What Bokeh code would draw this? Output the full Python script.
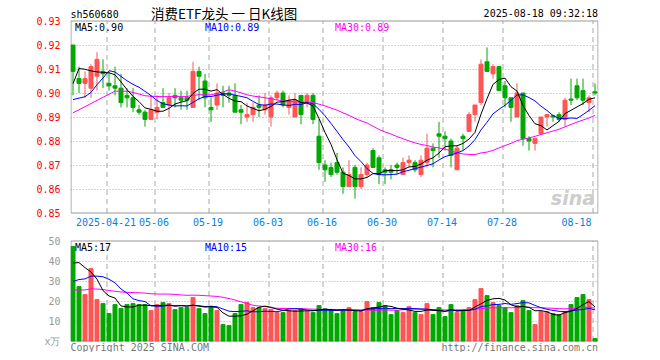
import numpy as np
import pandas as pd
from bokeh.plotting import figure
from bokeh.models import Range1d, FixedTicker, Label, LabelSet, ColumnDataSource, NumeralTickFormatter
from bokeh.layouts import column
from bokeh.core.properties import value
from bokeh.embed import file_html
from bokeh.resources import INLINE

# ---------------- data ----------------
dates = ["04-11","04-14","04-15","04-16","04-17","04-18","04-21","04-22","04-23","04-24","04-25","04-28","04-29","04-30",
         "05-06","05-07","05-08","05-09","05-12","05-13","05-14","05-15","05-16","05-19","05-20","05-21","05-22","05-23",
         "05-26","05-27","05-28","05-29","05-30",
         "06-03","06-04","06-05","06-06","06-09","06-10","06-11","06-12","06-13","06-16","06-17","06-18","06-19","06-20",
         "06-23","06-24","06-25","06-26","06-27","06-30",
         "07-01","07-02","07-03","07-04","07-07","07-08","07-09","07-10","07-11","07-14","07-15","07-16","07-17","07-18",
         "07-21","07-22","07-23","07-24","07-25","07-28","07-29","07-30","07-31",
         "08-01","08-04","08-05","08-06","08-07","08-08","08-11","08-12","08-13","08-14","08-15","08-18"]

opens = [0.920,0.906,0.904,0.902,0.907,0.909,0.904,0.903,0.902,0.899,0.898,0.893,0.892,0.889,0.892,0.896,0.895,0.899,0.898,0.898,
         0.894,0.909,0.905,0.894,0.895,0.900,0.900,0.899,0.893,0.890,0.891,0.895,0.893,0.890,0.898,0.900,0.894,0.890,0.899,0.896,
         0.899,0.882,0.870,0.869,0.871,0.867,0.861,0.869,0.861,0.866,0.876,0.873,0.868,0.868,0.870,0.866,0.871,0.871,0.866,0.871,
         0.877,0.883,0.882,0.880,0.868,0.882,0.884,0.891,0.896,0.913,0.908,0.911,0.903,0.898,0.890,0.900,0.881,0.879,0.883,0.890,
         0.8905,0.891,0.889,0.8975,0.903,0.901,0.896,0.9005]
highs = [0.920,0.911,0.909,0.912,0.917,0.914,0.909,0.911,0.908,0.902,0.902,0.895,0.893,0.899,0.899,0.902,0.900,0.902,0.901,0.901,
         0.913,0.911,0.908,0.898,0.904,0.903,0.903,0.904,0.895,0.896,0.896,0.899,0.900,0.899,0.901,0.901,0.899,0.900,0.899,0.900,
         0.900,0.889,0.872,0.871,0.875,0.869,0.872,0.870,0.869,0.871,0.877,0.874,0.869,0.870,0.871,0.873,0.874,0.872,0.874,0.883,
         0.879,0.888,0.884,0.881,0.878,0.883,0.892,0.895,0.914,0.919,0.912,0.911,0.905,0.898,0.904,0.900,0.882,0.881,0.890,0.891,
         0.891,0.892,0.898,0.906,0.906,0.906,0.899,0.904]
lows = [0.899,0.900,0.898,0.898,0.901,0.902,0.901,0.899,0.894,0.894,0.892,0.891,0.886,0.889,0.889,0.894,0.890,0.894,0.893,0.893,
        0.894,0.897,0.894,0.888,0.893,0.894,0.896,0.892,0.887,0.888,0.888,0.890,0.891,0.886,0.897,0.894,0.891,0.890,0.887,0.894,
        0.887,0.868,0.863,0.865,0.866,0.858,0.861,0.856,0.860,0.865,0.869,0.862,0.862,0.864,0.866,0.866,0.869,0.867,0.865,0.869,
        0.869,0.873,0.876,0.869,0.868,0.876,0.884,0.888,0.895,0.909,0.906,0.901,0.894,0.888,0.890,0.878,0.876,0.876,0.883,0.886,
        0.888,0.888,0.886,0.895,0.897,0.895,0.892,0.899]
closes = [0.909,0.904,0.906,0.911,0.914,0.908,0.903,0.902,0.896,0.898,0.894,0.892,0.889,0.893,0.894,0.894,0.898,0.898,0.897,0.897,
          0.909,0.907,0.898,0.893,0.900,0.899,0.899,0.892,0.892,0.891,0.894,0.894,0.895,0.898,0.900,0.895,0.897,0.897,0.891,0.899,
          0.889,0.871,0.868,0.866,0.867,0.861,0.866,0.861,0.866,0.870,0.869,0.866,0.867,0.867,0.869,0.871,0.872,0.868,0.872,0.877,
          0.876,0.882,0.881,0.874,0.877,0.881,0.891,0.895,0.912,0.909,0.911,0.901,0.898,0.894,0.900,0.881,0.880,0.881,0.890,0.891,
          0.890,0.889,0.897,0.897,0.898,0.897,0.898,0.900]
# closes of the 29 sessions before the first one shown (they only feed the moving averages)
pre_closes = [0.866,0.867,0.872,0.875,0.870,0.864,0.863,0.897,0.898,0.910,0.912,0.910,0.899,0.897,0.896,0.898,0.895,0.897,
              0.898,0.896,0.898,0.900,0.893,0.882,0.880,0.8725,0.9075,0.9145,0.916]

volumes = [47.2,27.2,23.2,36.2,20.7,18.7,13.7,18.2,16.3,18.2,18.7,18.2,18.2,15.2,18.2,19.2,18.7,15.7,16.7,16.7,
           21.7,16.2,13.7,17.2,15.2,8.2,7.7,13.7,18.2,19.2,16.7,16.7,16.2,15.7,14.2,14.2,15.2,15.2,16.2,14.7,
           14.2,17.7,16.2,15.5,13.7,15.2,16.7,14.7,14.7,19.7,16.7,19.2,17.7,13.2,15.2,14.2,17.2,14.2,13.2,18.7,
           13.2,16.7,12.2,18.2,14.2,15.2,16.7,20.7,26.2,22.7,19.2,17.7,16.7,14.2,17.7,20.2,15.2,8.2,14.7,14.7,
           13.7,13.2,14.7,18.2,21.7,23.2,20.7,1.2]
pre_volumes = [25,22,20,24,26,28,30,27,24,22,21,23,25,22,20,19,21,24,22,20,18,20,22,21,22,26.2,35.7,47.2,38.7]

tick_dates = ["04-21","05-06","05-19","06-03","06-16","06-30","07-14","07-28","08-18"]
tick_texts = ["2025-04-21","05-06","05-19","06-03","06-16","06-30","07-14","07-28","08-18"]
price_ticks = [0.85,0.86,0.87,0.88,0.89,0.90,0.91,0.92,0.93]
vol_ticks = [0,10,20,30,40,50]
vol_ma_texts = ["MA5:17","MA10:15","MA30:16"]

code = "sh560680"
title = "消费ETF龙头 一 日K线图"
stamp = "2025-08-18 09:32:18"
copyright_txt = "Copyright 2025 SINA.COM"
url_txt = "http://finance.sina.com.cn"

# ---------------- derived ----------------
n = len(dates)
idx = np.arange(n)
o = np.array(opens); h = np.array(highs); l = np.array(lows); c = np.array(closes)
call = pd.Series(pre_closes + closes)
vall = pd.Series(pre_volumes + volumes)
ma = {k: call.rolling(k).mean().values[-n:] for k in (5, 10, 30)}
vma = {k: vall.rolling(k).mean().values[-n:] for k in (5, 10, 30)}

RED = "#ff5555"
GREEN = "#00a800"
colors = [RED if cc > oo else GREEN for oo, cc in zip(o, c)]
MONO = "DejaVu Sans Mono"
BLUE_TXT = "#0a80dc"
GRID = "#a8a8a8"
BOX = "#999999"

src = ColumnDataSource(dict(x=idx, h=h, l=l, top=np.maximum(o, c), bottom=np.minimum(o, c),
                            vol=volumes, color=colors))

W = 660
LEFT = 70                      # frame starts on pixel column 70
PX = 6.0                       # pixels per session
box_l = -2.0 / PX              # left frame line (first column of the first body)
box_r = n - 1 + 3.0 / PX       # right frame line
xr = Range1d(-2.5 / PX, n - 1 + 3.5 / PX)
RIGHT = W - LEFT - int(round((xr.end - xr.start) * PX))
tick_idx = [dates.index(d) for d in tick_dates]
grid_x = [i - 2.0 / PX for i in tick_idx]

# price panel: 2400 px per unit, 0.93 on pixel row 20, 0.85 on row 212
PY = 2400.0
P_H = 232
p_top, p_bot = price_ticks[-1], price_ticks[0]
p_yr = Range1d(p_bot - (P_H - 212.5) / PY, p_top + 20.5 / PY)
# volume panel: 2 px per unit, 50 on row 240, 0 on row 340
VY = 2.0
V_H = 120
v_top, v_bot = vol_ticks[-1], vol_ticks[0]
v_yr = Range1d(v_bot - (V_H - 108.5) / VY, v_top + 8.5 / VY)


def base(fig, ticks, top, bot):
    fig.outline_line_color = None
    fig.background_fill_color = "white"
    fig.border_fill_color = "white"
    fig.xgrid.visible = False
    fig.yaxis.axis_line_color = None
    fig.yaxis.major_tick_line_color = None
    fig.yaxis.minor_tick_line_color = None
    fig.yaxis.major_label_standoff = 4
    fig.yaxis.major_label_text_font = MONO
    fig.yaxis.major_label_text_font_size = "10px"
    fig.yaxis.ticker = FixedTicker(ticks=ticks)
    fig.ygrid.ticker = FixedTicker(ticks=ticks[1:-1])
    fig.ygrid.grid_line_color = GRID
    fig.ygrid.grid_line_dash = "1 2"
    k = len(grid_x)
    fig.segment(x0=grid_x, y0=[bot] * k, x1=grid_x, y1=[top] * k, line_color=GRID,
                line_dash="5 4", line_width=1)
    fig.quad(left=[box_l], right=[box_r], bottom=[bot], top=[top], fill_alpha=0,
             line_color=BOX, line_width=1)


def txt(fig, x, y, text, dx=0, dy=0, align="left", color="black", font=MONO, size="10px", style="normal"):
    fig.add_layout(Label(x=x, y=y, x_offset=dx, y_offset=dy, text=text, text_font=font,
                         text_font_size=size, text_font_style=style, text_color=color,
                         text_align=align, text_baseline="middle"))


# ---------------- price panel ----------------
p = figure(width=W, height=P_H, output_backend="svg", toolbar_location=None,
           x_range=xr, y_range=p_yr, x_axis_location=None,
           min_border_left=LEFT, min_border_right=RIGHT, min_border_top=0, min_border_bottom=0)
base(p, price_ticks, p_top, p_bot)
p.yaxis.formatter = NumeralTickFormatter(format="0.00")
p.yaxis.major_label_text_color = "#ff0000"

p.segment(x0="x", y0="h", x1="x", y1="l", color="color", line_width=1, source=src)
p.vbar(x="x", width=4 / PX, top="top", bottom="bottom", fill_color="color", line_color="color",
       line_width=1, source=src)
p.line(idx, ma[30], color="#ff00ff", line_width=1)
p.line(idx, ma[10], color="#0000ff", line_width=1)
p.line(idx, ma[5], color="black", line_width=1)

txt(p, box_l, p_top, code, dx=-0.5, dy=7)
txt(p, box_l, p_top, title, dx=80, dy=8.5, font="Noto Sans CJK SC", size="13.5px")
txt(p, box_r, p_top, stamp, dx=0, dy=8, align="right")
for k, dx, col in ((5, 4, "black"), (10, 134, "#0000ff"), (30, 264, "#ff00ff")):
    txt(p, box_l, p_top, f"MA{k}:{ma[k][-1]:.2f}", dx=dx, dy=-6, color=col)

lab_src = ColumnDataSource(dict(x=grid_x[:-1], y=[p_bot] * (len(grid_x) - 1), t=tick_texts[:-1]))
p.add_layout(LabelSet(x="x", y="y", text="t", source=lab_src, x_offset=-1, y_offset=-9,
                      text_font=value(MONO), text_font_size=value("10px"), text_color=BLUE_TXT,
                      text_align="center", text_baseline="middle"))
txt(p, box_r, p_bot, tick_texts[-1], dx=-6.5, dy=-9, align="right", color=BLUE_TXT)
txt(p, box_r, p_bot, "sina", dx=-3, dy=15, align="right", color="#cdcdcd", font="DejaVu Sans",
    size="19px", style="bold italic")

# ---------------- volume panel ----------------
p2 = figure(width=W, height=V_H, output_backend="svg", toolbar_location=None,
            x_range=xr, y_range=v_yr, x_axis_location=None,
            min_border_left=LEFT, min_border_right=RIGHT, min_border_top=0, min_border_bottom=0)
base(p2, vol_ticks, v_top, v_bot)
p2.yaxis.major_label_overrides = {vol_ticks[0]: "x万"}
p2.yaxis.major_label_text_color = "#999999"

p2.vbar(x="x", width=4 / PX, top="vol", bottom=v_bot, fill_color="color", line_color="color",
        line_width=1, source=src)
p2.line(idx, vma[30], color="#ff00ff", line_width=1)
p2.line(idx, vma[10], color="#0000ff", line_width=1)
p2.line(idx, vma[5], color="black", line_width=1)

for t, dx, col in zip(vol_ma_texts, (4, 134, 264), ("black", "#0000ff", "#ff00ff")):
    txt(p2, box_l, v_top, t, dx=dx, dy=-6.5, color=col)
txt(p2, box_l, v_bot, copyright_txt, dx=-0.5, dy=-6, color="#777777")
txt(p2, box_r, v_bot, url_txt, dx=0, dy=-6, align="right", color="#777777")

layout = column(p, p2, spacing=0)
open("out.html", "w").write(file_html(layout, INLINE))
